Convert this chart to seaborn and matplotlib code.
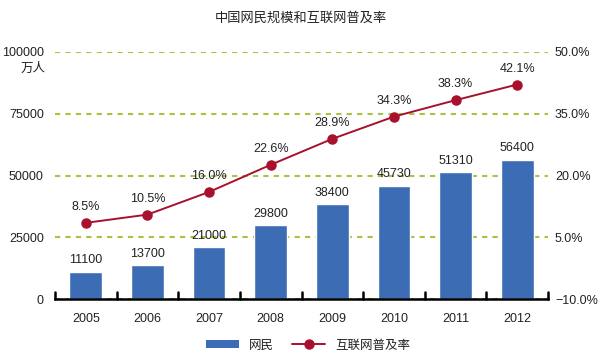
import pandas as pd
import numpy as np
import matplotlib
matplotlib.use("Agg")
import matplotlib.pyplot as plt
import matplotlib.transforms as mtransforms
import seaborn as sns
from matplotlib.ticker import FuncFormatter
from matplotlib.patches import Patch
from matplotlib.lines import Line2D

years = ['2005', '2006', '2007', '2008', '2009', '2010', '2011', '2012']
netizens = [11100, 13700, 21000, 29800, 38400, 45730, 51310, 56400]
rates = [8.5, 10.5, 16.0, 22.6, 28.9, 34.3, 38.3, 42.1]

df = pd.DataFrame({'year': years, 'netizens': netizens, 'rate': rates})

bar_color = '#3C6DB4'
line_color = '#A8112E'
grid_color = '#A9C23F'
text_color = '#222222'

sns.set_theme(style="white")
plt.rcParams['font.family'] = ['Liberation Sans', 'Noto Sans CJK SC', 'DejaVu Sans']
plt.rcParams['font.size'] = 9
plt.rcParams['text.color'] = text_color
plt.rcParams['axes.unicode_minus'] = True

fig = plt.figure(figsize=(6, 3.64), dpi=100)
ax = fig.add_axes([55 / 600, 1 - 299 / 364, (548 - 55) / 600, (299 - 52) / 364])

sns.barplot(data=df, x='year', y='netizens', ax=ax, color=bar_color,
            width=0.53, saturation=1, zorder=2)
ax.bar_label(ax.containers[0], labels=[str(v) for v in netizens],
             padding=4, fontsize=9, color=text_color)

ax.set_ylim(0, 100000)
ax.set_yticks([0, 25000, 50000, 75000, 100000])
ax.set_xlabel('')
ax.set_ylabel('')
ax.set_axisbelow(True)
ax.yaxis.grid(True, color=grid_color, linestyle=(0, (2.5, 2.5)), linewidth=1.5)
ax.xaxis.grid(False)
for s in ['top', 'left', 'right', 'bottom']:
    ax.spines[s].set_visible(False)
ax.tick_params(axis='y', length=0, pad=8, labelsize=9, labelcolor=text_color)
ax.tick_params(axis='x', length=0, pad=10, labelsize=9, labelcolor=text_color)
ax.text(-0.02, 0.935, '万人', transform=ax.transAxes, ha='right', va='center',
        fontsize=9, family=['Noto Sans CJK SC', 'DejaVu Sans'], color=text_color)

ax2 = ax.twinx()
sns.pointplot(data=df, x='year', y='rate', ax=ax2, color=line_color,
              markers='o', markersize=6.5, linewidth=1.4, errorbar=None)
ax2.set_ylim(-10, 50)
ax2.set_yticks([-10, 5, 20, 35, 50])
ax2.yaxis.set_major_formatter(FuncFormatter(lambda v, p: f"{v:.1f}%".replace('-', '\u2212')))
ax2.set_ylabel('')
ax2.set_xlabel('')
for s in ['top', 'left', 'right']:
    ax2.spines[s].set_visible(False)
# black category axis drawn on the top-most axes so nothing covers it
ax2.spines['bottom'].set_visible(True)
ax2.spines['bottom'].set_color('black')
ax2.spines['bottom'].set_linewidth(1.8)
ax2.tick_params(axis='y', length=0, pad=5, labelsize=9, labelcolor=text_color)
ax2.grid(False)
for i, r in enumerate(rates):
    ax2.annotate(f"{r:.1f}%", (i, r), xytext=(0, 7), textcoords='offset points',
                 ha='center', va='bottom', fontsize=9, color=text_color)

ax.set_xlim(-0.5, len(years) - 0.5)

# category boundary ticks pointing up from the bottom axis
bounds = np.arange(len(years) + 1) - 0.5
trans = mtransforms.blended_transform_factory(ax2.transData, ax2.transAxes)
ax2.add_line(Line2D([], []))  # keep ax2 line list non-empty order stable
for b in bounds:
    ax2.add_line(Line2D([b, b], [0, 0.03], transform=trans, color='black',
                        linewidth=1.8, clip_on=False, zorder=10))

fig.suptitle('中国网民规模和互联网普及率', x=301 / 600, y=1 - 18 / 364, va='center',
             fontsize=9.5, family=['Noto Sans CJK SC', 'DejaVu Sans'], color=text_color)

handles = [Patch(facecolor=bar_color, edgecolor='none'),
           Line2D([0], [0], color=line_color, marker='o', markersize=6.5, linewidth=1.4)]
fig.legend(handles, ['网民', '互联网普及率'], loc='center', ncol=2, frameon=False,
           bbox_to_anchor=(308 / 600, 1 - 345 / 364), handlelength=2.6, handleheight=0.6,
           columnspacing=1.5, prop={'family': ['Noto Sans CJK SC', 'DejaVu Sans'], 'size': 9})

fig.savefig('out.png', dpi=100)
